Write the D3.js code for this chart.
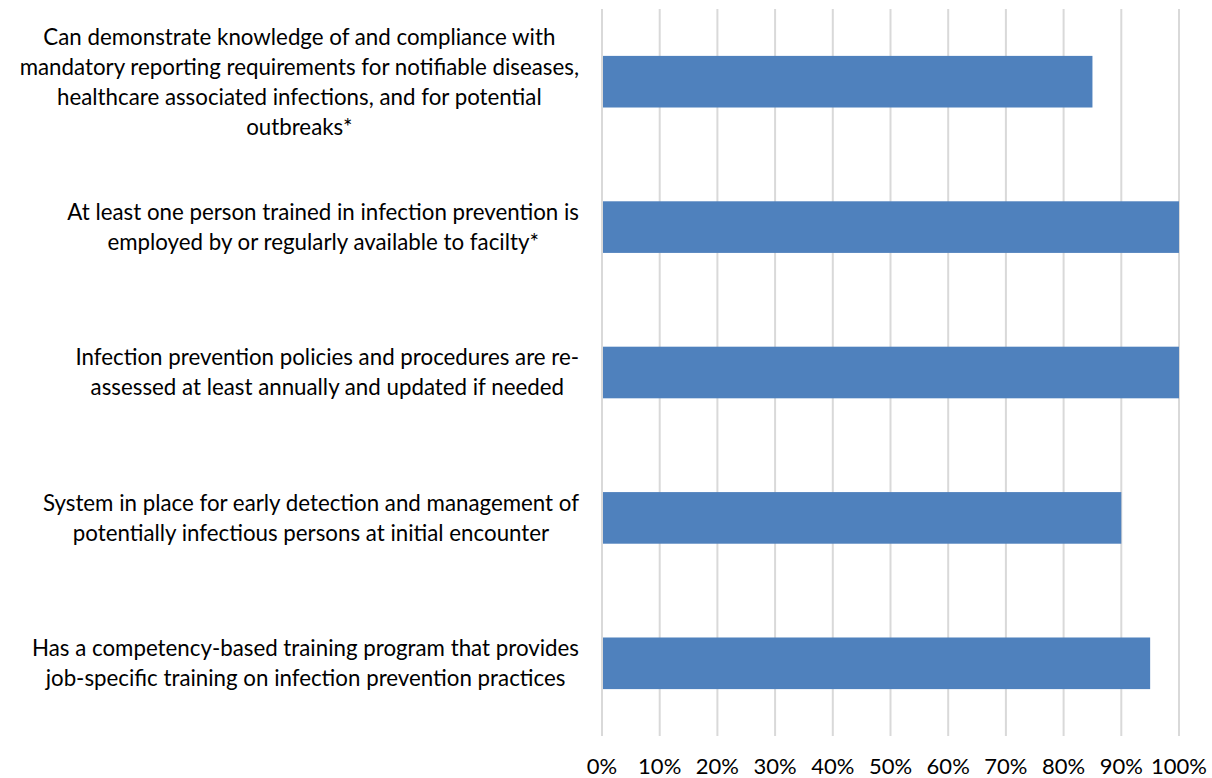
<!DOCTYPE html>
<html>
<head>
<meta charset="utf-8">
<script src="https://cdn.jsdelivr.net/npm/d3@7"></script>
<style>
  body { margin: 0; background: #fff; }
  svg { display: block; font-family: Lato, "Noto Sans", sans-serif; }
  .label { font-size: 22.3px; fill: #000; }
  .tick-label { font-size: 22px; fill: #000; }
</style>
</head>
<body>
<svg id="chart"></svg>
<script>
// categories, top to bottom (each entry is the wrapped lines of the label)
const categories = [
  ['Can demonstrate knowledge of and compliance with',
   'mandatory reporting requirements for notifiable diseases,',
   'healthcare associated infections, and for potential',
   'outbreaks*'],
  ['At least one person trained in infection prevention is',
   'employed by or regularly available to facilty*'],
  ['Infection prevention policies and procedures are re-',
   'assessed at least annually and updated if needed'],
  ['System in place for early detection and management of',
   'potentially infectious persons at initial encounter'],
  ['Has a competency-based training program that provides',
   'job-specific training on infection prevention practices']
];
const values = [0.85, 1.0, 1.0, 0.9, 0.95];
const ticks = [0, 0.1, 0.2, 0.3, 0.4, 0.5, 0.6, 0.7, 0.8, 0.9, 1.0];

const width = 1212, height = 778;
const margin = { top: 9, right: 33, bottom: 42, left: 602 };

const svg = d3.select('#chart').attr('width', width).attr('height', height);

const x = d3.scaleLinear().domain([0, 1]).range([margin.left, width - margin.right]);
const y = d3.scaleBand()
  .domain(d3.range(categories.length))
  .range([margin.top, height - margin.bottom])
  .paddingInner(0.645)
  .paddingOuter(0.3225);

// vertical gridlines
svg.append('g').selectAll('line')
  .data(ticks)
  .join('line')
  .attr('x1', d => x(d))
  .attr('x2', d => x(d))
  .attr('y1', margin.top)
  .attr('y2', height - margin.bottom)
  .attr('stroke', '#d9d9d9')
  .attr('stroke-width', 2);

// bars
svg.append('g').selectAll('rect')
  .data(values)
  .join('rect')
  .attr('x', x(0) + 1)
  .attr('y', (d, i) => y(i))
  .attr('width', d => x(d) - x(0) - 1)
  .attr('height', y.bandwidth())
  .attr('fill', '#4f81bd');

// x tick labels
svg.append('g').selectAll('text')
  .data(ticks)
  .join('text')
  .attr('class', 'tick-label')
  .attr('x', d => x(d))
  .attr('y', 774)
  .attr('text-anchor', 'middle')
  .text(d3.format('.0%'));

// category labels: lines centred on each other, block right-aligned to the plot
const lineH = 30;
const labelRight = 579;
categories.forEach((lines, i) => {
  const g = svg.append('g');
  const cy = y(i) + y.bandwidth() / 2;
  const t = g.selectAll('text')
    .data(lines)
    .join('text')
    .attr('class', 'label')
    .attr('text-anchor', 'middle')
    .attr('y', (d, j) => cy + (j - (lines.length - 1) / 2) * lineH)
    .attr('dy', '0.35em')
    .text(d => d);
  const maxW = d3.max(t.nodes(), n => n.getComputedTextLength());
  t.attr('x', labelRight - maxW / 2);
});
</script>
</body>
</html>
